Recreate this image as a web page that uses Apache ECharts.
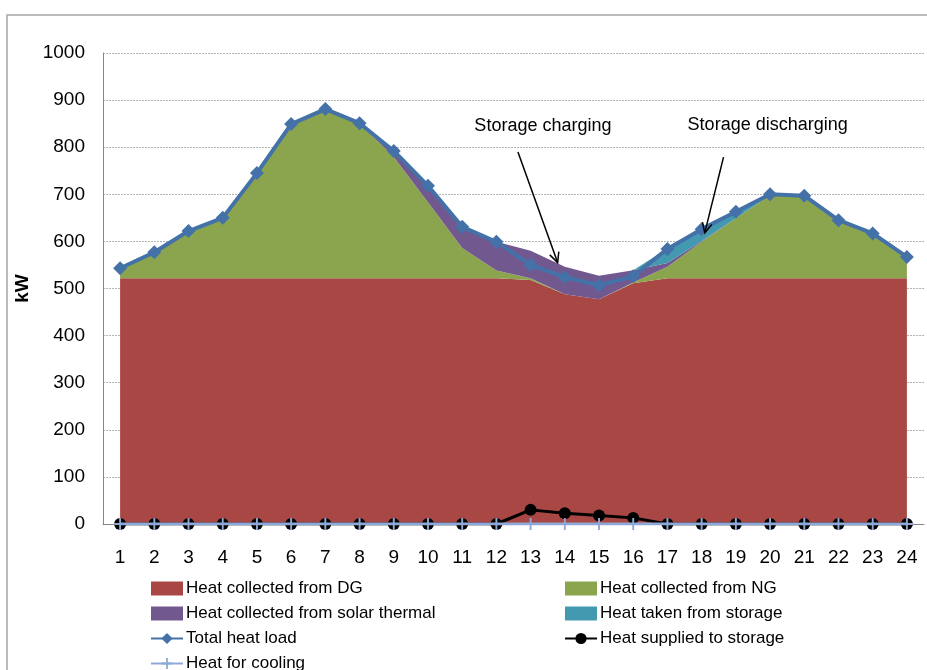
<!DOCTYPE html>
<html>
<head>
<meta charset="utf-8">
<script src="https://cdn.jsdelivr.net/npm/echarts@6/dist/echarts.min.js"></script>
<style>
html,body{margin:0;padding:0;background:#fff;}
#chart{width:927px;height:670px;}
</style>
</head>
<body>
<div id="chart"></div>
<script>
const hours = ['1','2','3','4','5','6','7','8','9','10','11','12','13','14','15','16','17','18','19','20','21','22','23','24'];
const heatFromDG = [522,522,522,522,522,522,522,522,522,522,522,522,518,488,477,511,522,522,522,522,522,522,522,522];
const heatFromNG = [21,55,100,128,223,327,359,329,257,161,64,16,4,0,0,2,24,77,127,176,175,123,95,45];
const heatFromSolar = [0,0,0,0,0,0,0,0,13,35,45,61,58,58,50,26,8,2,0,0,0,0,0,0];
const heatFromStorage = [0,0,0,0,0,0,0,0,0,0,0,0,0,0,0,0,31,25,14,2,0,0,0,0];
const totalHeatLoad = [543,577,622,650,745,849,881,851,792,718,631,599,550,524,507,526,584,626,663,700,697,645,617,567];
const heatToStorage = [0,0,0,0,0,0,0,0,0,0,0,0,30,23,18,13,0,0,0,0,0,0,0,0];
const heatForCooling = [0,0,0,0,0,0,0,0,0,0,0,0,0,0,0,0,0,0,0,0,0,0,0,0];

const FONT = '"Liberation Sans", Arial, sans-serif';
const chart = echarts.init(document.getElementById('chart'), null, {renderer: 'canvas'});

function areaSeries(name, data, color) {
  return {
    name: name, type: 'line', stack: 'heat', data: data,
    symbol: 'none', showSymbol: false,
    lineStyle: {width: 0, opacity: 0},
    itemStyle: {color: color},
    areaStyle: {color: color, opacity: 1},
    emphasis: {disabled: true}, z: 2
  };
}
const plusPath = 'path://M4.2 0H5.8V10H4.2Z M0 4.2H10V5.8H0Z';
const legendText = {fontSize: 17, fontFamily: FONT, color: '#000', lineHeight: 16, padding: [0,0,0,-2]};

const option = {
  animation: false,
  backgroundColor: '#fff',
  textStyle: {fontFamily: FONT},
  grid: {left: 103, top: 53, right: 3, bottom: 146, containLabel: false},
  xAxis: {
    type: 'category', data: hours, boundaryGap: true,
    axisLine: {show: true, lineStyle: {color: '#868686', width: 1}},
    axisTick: {show: false},
    axisLabel: {color: '#000', fontSize: 19, fontFamily: FONT, margin: 24, interval: 0},
    splitLine: {show: false}
  },
  yAxis: {
    type: 'value', min: 0, max: 1000, interval: 100,
    name: 'kW', nameLocation: 'middle', nameGap: 61, nameRotate: 90,
    nameTextStyle: {color: '#000', fontSize: 19, fontWeight: 'bold', fontFamily: FONT},
    axisLine: {show: true, lineStyle: {color: '#868686', width: 1}},
    axisTick: {show: false},
    axisLabel: {color: '#000', fontSize: 19, fontFamily: FONT, margin: 18, formatter: function (v) { return String(v); }},
    splitLine: {show: true, lineStyle: {color: '#b4b4b4', type: [2, 1], width: 1}}
  },
  legend: [
    {
      left: 145, top: 575, height: 140, orient: 'vertical', itemGap: 8, itemWidth: 32, itemHeight: 14,
      textStyle: legendText, selectedMode: false,
      data: [
        {name: 'Heat collected from DG', icon: 'rect'},
        {name: 'Heat collected from solar thermal', icon: 'rect'},
        {name: 'Total heat load'},
        {name: 'Heat for cooling'}
      ]
    },
    {
      left: 559, top: 575, height: 140, orient: 'vertical', itemGap: 8, itemWidth: 32, itemHeight: 14,
      textStyle: legendText, selectedMode: false,
      data: [
        {name: 'Heat collected from NG', icon: 'rect'},
        {name: 'Heat taken from storage', icon: 'rect'},
        {name: 'Heat supplied to storage'}
      ]
    }
  ],
  series: [
    areaSeries('Heat collected from DG', heatFromDG, '#A84744'),
    areaSeries('Heat collected from NG', heatFromNG, '#8BA54F'),
    areaSeries('Heat collected from solar thermal', heatFromSolar, '#71588F'),
    areaSeries('Heat taken from storage', heatFromStorage, '#4399B0'),
    {
      name: 'Total heat load', type: 'line', data: totalHeatLoad,
      symbol: 'diamond', symbolSize: 14, showSymbol: true,
      lineStyle: {color: '#4472A8', width: 4},
      itemStyle: {color: '#4472A8'}, z: 5
    },
    {
      name: 'Heat supplied to storage', type: 'line', data: heatToStorage,
      symbol: 'circle', symbolSize: 12, showSymbol: true,
      lineStyle: {color: '#000', width: 3},
      itemStyle: {color: '#000'}, z: 6
    },
    {
      name: 'Heat for cooling', type: 'line', data: heatForCooling,
      symbol: plusPath, symbolSize: 12, showSymbol: true,
      lineStyle: {color: '#8EA9D8', width: 3},
      itemStyle: {color: '#8EA9D8'}, z: 7
    }
  ]
};
chart.setOption(option);

// annotations anchored in data space (fractional hour, kW)
function px(h, v) {
  const i = Math.floor(h - 1);
  const f = (h - 1) - i;
  const a = chart.convertToPixel({gridIndex: 0}, [i, v]);
  const b = chart.convertToPixel({gridIndex: 0}, [i + 1, v]);
  return [a[0] + f * (b[0] - a[0]), a[1]];
}
function arrow(from, to) {
  const p0 = px(from[0], from[1]);
  const p1 = px(to[0], to[1]);
  const ang = Math.atan2(p1[1] - p0[1], p1[0] - p0[0]);
  const L = 11, da = 0.45;
  const h1 = [p1[0] - L * Math.cos(ang - da), p1[1] - L * Math.sin(ang - da)];
  const h2 = [p1[0] - L * Math.cos(ang + da), p1[1] - L * Math.sin(ang + da)];
  return [
    {type: 'line', shape: {x1: p0[0], y1: p0[1], x2: p1[0], y2: p1[1]}, style: {stroke: '#000', lineWidth: 1.5}, z: 100},
    {type: 'polyline', shape: {points: [h1, p1, h2]}, style: {stroke: '#000', lineWidth: 1.5, fill: null}, z: 100}
  ];
}
function label(text, h, v) {
  const p = px(h, v);
  return {type: 'text', z: 100, style: {text: text, x: p[0], y: p[1], fill: '#000', font: '18px ' + FONT,
    textAlign: 'center', align: 'center', textVerticalAlign: 'middle', verticalAlign: 'middle'}};
}
const graphics = [
  {type: 'rect', shape: {x: 7, y: 15, width: 960, height: 700}, style: {stroke: '#a6a6a6', lineWidth: 1.5, fill: null}, z: 0, silent: true},
  label('Storage charging', 13.36, 845),
  label('Storage discharging', 19.93, 847)
].concat(arrow([12.63, 790], [13.79, 555])).concat(arrow([18.64, 779], [18.09, 618]));
chart.setOption({graphic: graphics});
</script>
</body>
</html>
